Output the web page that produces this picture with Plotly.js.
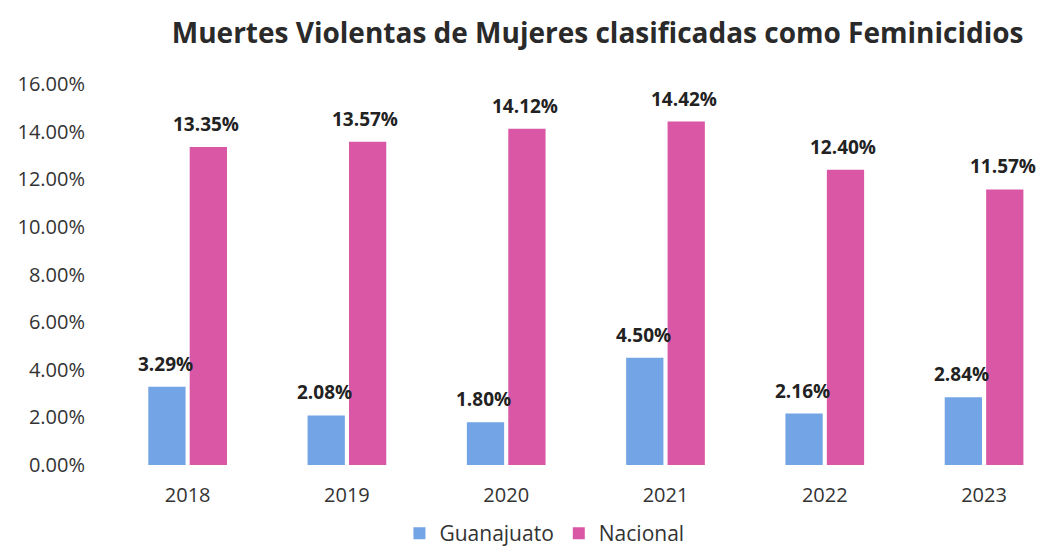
<!DOCTYPE html>
<html>
<head>
<meta charset="utf-8">
<script src="https://cdn.plot.ly/plotly-3.0.1.min.js"></script>
<style>html,body{margin:0;padding:0;background:#fff;}#chart{width:1043px;height:554px;}</style>
</head>
<body>
<div id="chart"></div>
<script>
const years = ["2018", "2019", "2020", "2021", "2022", "2023"];
const guanajuato = [3.29, 2.08, 1.80, 4.50, 2.16, 2.84];
const nacional = [13.35, 13.57, 14.12, 14.42, 12.40, 11.57];
const seriesNames = ["Guanajuato", "Nacional"];
const yTicks = [0, 2, 4, 6, 8, 10, 12, 14, 16];

const FONT = "'Open Sans', 'Noto Sans', sans-serif";
const blue = "#72A4E6";
const pink = "#DA57A6";

const traces = [
  {type: "bar", name: seriesNames[0], x: years, y: guanajuato, marker: {color: blue}, hoverinfo: "none"},
  {type: "bar", name: seriesNames[1], x: years, y: nacional, marker: {color: pink}, hoverinfo: "none"}
];

const annotations = [];
const slotPx = 20.5;
[[guanajuato, -slotPx], [nacional, slotPx]].forEach(([vals, shift]) => {
  vals.forEach((v, i) => {
    annotations.push({
      x: i, y: v, xref: "x", yref: "y",
      text: "<b>" + v.toFixed(2) + "%</b>",
      showarrow: false, xanchor: "center", yanchor: "bottom",
      xshift: shift - 2, yshift: 8,
      font: {family: FONT, size: 19, color: "#222"}
    });
  });
});

const layout = {
  width: 1043, height: 554,
  margin: {l: 108, r: 0, t: 84, b: 89},
  paper_bgcolor: "#fff", plot_bgcolor: "#fff",
  title: {text: "<b>Muertes Violentas de Mujeres clasificadas como Feminicidios</b>",
          x: 0.573, xanchor: "center", y: 0.94, yanchor: "middle",
          font: {family: FONT, size: 28, color: "#2a2a2a"}},
  barmode: "group", bargap: 0.48, bargroupgap: 0.1,
  xaxis: {type: "category", range: [-0.5, 5.37], showgrid: false, zeroline: false, showline: false,
          ticks: "", ticklabelstandoff: 16, automargin: false,
          tickfont: {family: FONT, size: 20, color: "#333"}, fixedrange: true},
  yaxis: {range: [0, 16], tickvals: yTicks, ticktext: yTicks.map(t => t.toFixed(2) + "%"),
          showgrid: false, zeroline: false, showline: false, ticks: "", ticklabelstandoff: 22,
          automargin: false,
          tickfont: {family: FONT, size: 20, color: "#333"}, fixedrange: true},
  showlegend: true,
  legend: {orientation: "h", x: 0.522, xanchor: "center", xref: "container", yref: "container",
           y: -0.06, yanchor: "bottom",
           font: {family: FONT, size: 21, color: "#333"}, itemwidth: 30, tracegroupgap: 0},
  annotations: annotations
};

Plotly.newPlot("chart", traces, layout, {displayModeBar: false, staticPlot: true});
</script>
</body>
</html>
